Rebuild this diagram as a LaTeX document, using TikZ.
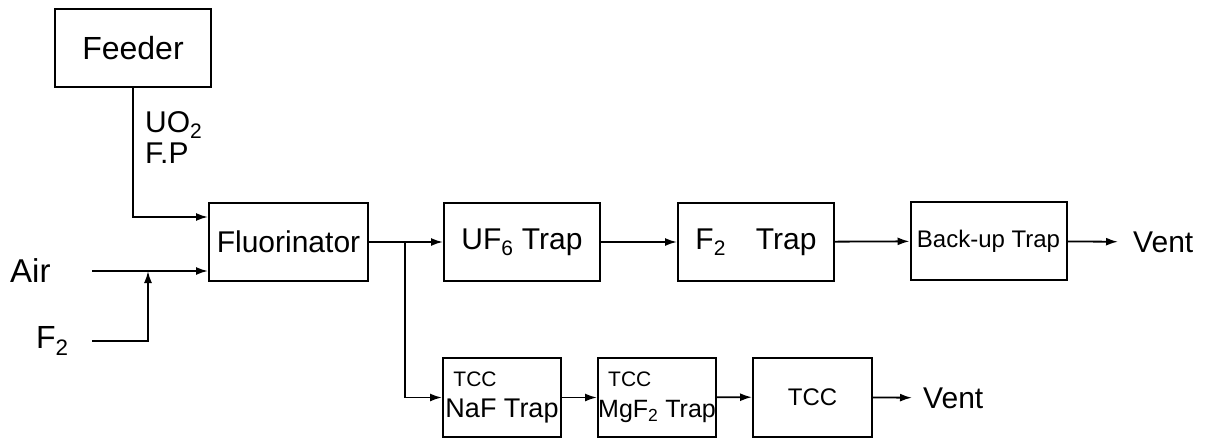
\documentclass[tikz,border=0pt]{standalone}
\usepackage{fontspec}
\setmainfont{Liberation Sans}
\usepackage{tikz}
\usetikzlibrary{arrows.meta, positioning}

\begin{document}
\begin{tikzpicture}[
    x=1pt, y=-1pt,
    every node/.style={font=\fontsize{30}{31}\selectfont, align=center},
    unit/.style={draw, line width=2pt, rectangle, inner sep=0pt,
                 minimum height=78pt, minimum width=156pt},
    trap/.style={draw, line width=2pt, rectangle, inner sep=0pt,
                 minimum height=79pt, minimum width=118pt, align=left},
    lbl/.style={inner sep=0pt},
    arr/.style={-{Latex[length=12pt,width=8pt]}, line width=1.8pt}
]
\useasboundingbox (0,0) rectangle (1212,441);
% main line
\node[unit, font=\fontsize{32}{34}\selectfont] (feed) at (133,48) {Feeder};
\node[unit, minimum width=159pt] (fluor) at (288.5,242) {Fluorinator};
\node[unit] (uf6)   at (522,242)   {UF\textsubscript{6} Trap};
\node[unit] (f2t)   at (756,242)   {F\textsubscript{2}\quad Trap};
\node[unit, font=\fontsize{24}{26}\selectfont] (bak) at (988.5,241) {Back-up Trap};
\node[lbl, anchor=west, inner xsep=15pt] (vent1) at (1118,242) {Vent};
% side line
\node[trap] (naf) at (502,397.5)
    {\hspace*{8pt}{\fontsize{21}{24}\selectfont TCC}\\{\fontsize{27}{28}\selectfont NaF Trap}};
\node[trap] (mgf) at (657,397.5)
    {\hspace*{10pt}{\fontsize{21}{24}\selectfont TCC}\\{\fontsize{25}{28}\selectfont MgF\textsubscript{2} Trap}};
\node[trap, minimum width=119pt, align=center, font=\fontsize{24}{26}\selectfont] (tcc) at (812.5,397) {TCC};
\node[lbl, anchor=west, inner xsep=11pt] (vent2) at (912,398) {Vent};
% feeds
\node[lbl, anchor=west, font=\fontsize{33}{34}\selectfont] (air) at (10,271) {Air};
\node[lbl, anchor=west, font=\fontsize{32}{34}\selectfont] (f2)  at (36,341) {F\textsubscript{2}};
\node[lbl, anchor=north west, align=left] (feedlbl) at (145,111) {UO\textsubscript{2}\\F.P};
\coordinate (airin) at (92,271);
\coordinate (f2in)  at (92,341);
\coordinate (mix)   at (148,271);
\coordinate (split) at (405,242);

\draw[arr] (feed.south) |- ([yshift=25pt]fluor.west);
\draw[arr] (airin) -- (airin -| fluor.west);
\draw[arr] (f2in) -| (mix);
\draw[arr] (fluor) -- (uf6);
\draw[arr] (uf6) -- (f2t);
\draw[arr] (f2t) -- (bak);
\draw[arr] (bak) -- (vent1);
\draw[arr] (split) |- (naf.west);
\draw[arr] (naf) -- (mgf);
\draw[arr] (mgf) -- (tcc);
\draw[arr] (tcc) -- (vent2);
\end{tikzpicture}
\end{document}
